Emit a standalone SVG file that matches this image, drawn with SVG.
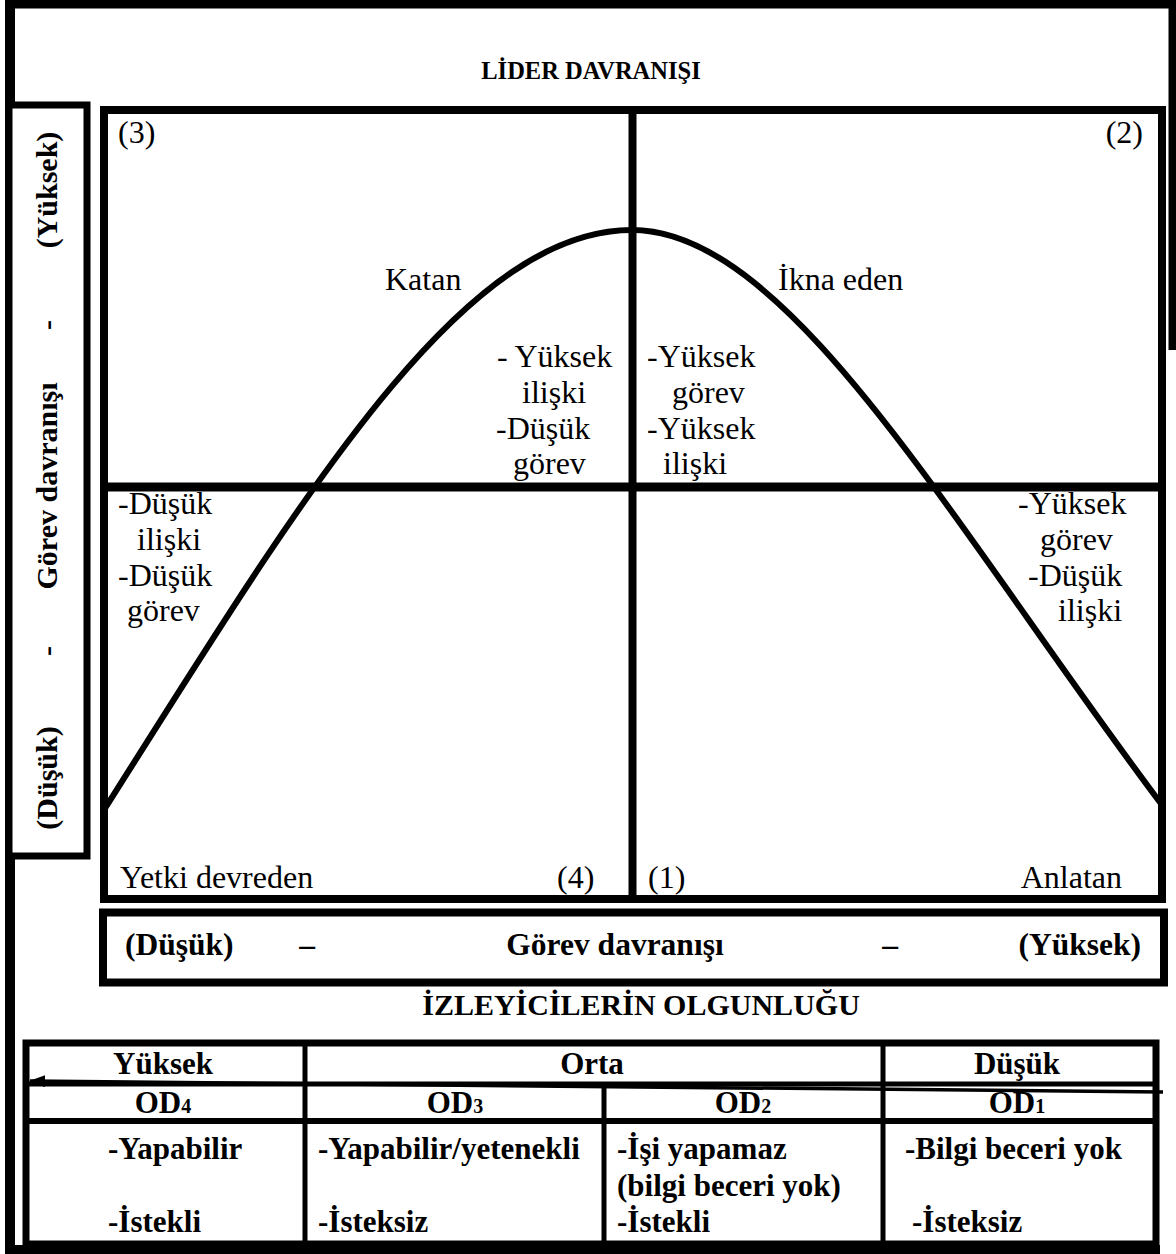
<svg xmlns="http://www.w3.org/2000/svg" width="1176" height="1254" viewBox="0 0 1176 1254">
  <style>
    .reg{font-family:"Liberation Serif","Times New Roman",serif;font-size:32px;fill:#000}
    .b{font-family:"Liberation Serif","Times New Roman",serif;font-weight:bold;fill:#000}
    .ax{font-size:30px}
    .xb{font-size:31.5px}
    .tb{font-size:31px}
    .sub{font-size:20px}
    .ln{stroke:#000;fill:none}
    .mid{text-anchor:middle}
    .end{text-anchor:end}
  </style>
  <defs>
    <marker id="ah" viewBox="0 0 16 12" refX="15" refY="6" markerWidth="16" markerHeight="12" markerUnits="userSpaceOnUse" orient="auto">
      <path d="M0,0 L16,6 L0,12 z" fill="#000"/>
    </marker>
  </defs>

  <rect width="1176" height="1254" fill="#fff"/>

  <!-- outer frame -->
  <g id="frame" class="ln">
    <line x1="5" y1="4" x2="1176" y2="4" stroke-width="9"/>
    <line x1="10" y1="0" x2="10" y2="1254" stroke-width="10"/>
    <line x1="1172.5" y1="0" x2="1172.5" y2="350" stroke-width="8"/>
    <line x1="5" y1="1249.5" x2="1160" y2="1249.5" stroke-width="9"/>
  </g>

  <!-- heading -->
  <g id="title">
    <text class="b" x="591" y="79" font-size="24.5" text-anchor="middle">LİDER DAVRANIŞI</text>
  </g>

  <!-- vertical axis label box -->
  <g id="y-axis">
    <rect x="9" y="105" width="78" height="751" fill="#fff" stroke="#000" stroke-width="7"/>
    <text class="b ax mid" transform="translate(57,190) rotate(-90)">(Yüksek)</text>
    <text class="b ax mid" transform="translate(57,325) rotate(-90)">-</text>
    <text class="b ax mid" transform="translate(57,486) rotate(-90)">Görev davranışı</text>
    <text class="b ax mid" transform="translate(57,651) rotate(-90)">-</text>
    <text class="b ax mid" transform="translate(57,778) rotate(-90)">(Düşük)</text>
  </g>

  <!-- quadrant grid -->
  <g id="grid" class="ln">
    <rect x="104" y="110" width="1058" height="789" stroke-width="8"/>
    <line x1="632.5" y1="110" x2="632.5" y2="899" stroke-width="8"/>
    <line x1="104" y1="487" x2="1162" y2="487" stroke-width="9"/>
  </g>

  <!-- leadership curve -->
  <g id="curve">
    <path class="ln" stroke-width="6" d="M104,810 C304,494 462,230 632,230 C790,230 955,530 1162,805"/>
  </g>

  <!-- quadrant 3 -->
  <g id="q3">
    <text class="reg" x="118" y="143">(3)</text>
    <text class="reg" x="385" y="290">Katan</text>
    <text class="reg" x="497" y="367">- Yüksek</text>
    <text class="reg" x="522" y="403">ilişki</text>
    <text class="reg" x="496" y="439">-Düşük</text>
    <text class="reg" x="513" y="474">görev</text>
  </g>

  <!-- quadrant 2 -->
  <g id="q2">
    <text class="reg end" x="1143" y="143">(2)</text>
    <text class="reg" x="778" y="290">İkna eden</text>
    <text class="reg" x="647" y="367">-Yüksek</text>
    <text class="reg" x="672" y="403">görev</text>
    <text class="reg" x="647" y="439">-Yüksek</text>
    <text class="reg" x="663" y="474">ilişki</text>
  </g>

  <!-- quadrant 4 -->
  <g id="q4">
    <text class="reg" x="118" y="514">-Düşük</text>
    <text class="reg" x="137" y="550">ilişki</text>
    <text class="reg" x="118" y="586">-Düşük</text>
    <text class="reg" x="127" y="621">görev</text>
    <text class="reg" x="120" y="888">Yetki devreden</text>
    <text class="reg" x="557" y="888">(4)</text>
  </g>

  <!-- quadrant 1 -->
  <g id="q1">
    <text class="reg" x="1018" y="514">-Yüksek</text>
    <text class="reg" x="1040" y="550">görev</text>
    <text class="reg" x="1028" y="586">-Düşük</text>
    <text class="reg" x="1058" y="621">ilişki</text>
    <text class="reg" x="648" y="888">(1)</text>
    <text class="reg end" x="1122" y="888">Anlatan</text>
  </g>

  <!-- horizontal axis label box -->
  <g id="x-axis">
    <rect x="103" y="912.5" width="1061" height="70" fill="#fff" stroke="#000" stroke-width="8"/>
    <text class="b xb" x="125" y="955">(Düşük)</text>
    <text class="b xb mid" x="307" y="955">–</text>
    <text class="b xb mid" x="615" y="955">Görev davranışı</text>
    <text class="b xb mid" x="890" y="955">–</text>
    <text class="b xb end" x="1141" y="955">(Yüksek)</text>
  </g>

  <!-- follower maturity table -->
  <g id="maturity">
    <text class="b mid" x="641" y="1015" font-size="30">İZLEYİCİLERİN OLGUNLUĞU</text>
    <g class="ln">
      <rect x="26" y="1043" width="1130" height="201" stroke-width="7"/>
      <line x1="26" y1="1084" x2="1156" y2="1084" stroke-width="5"/>
      <line x1="26" y1="1121" x2="1156" y2="1121" stroke-width="6"/>
      <line x1="305" y1="1043" x2="305" y2="1244" stroke-width="5"/>
      <line x1="883" y1="1043" x2="883" y2="1244" stroke-width="5"/>
      <line x1="604" y1="1084" x2="604" y2="1244" stroke-width="5"/>
    </g>
    <text class="b tb mid" x="163" y="1074">Yüksek</text>
    <text class="b tb mid" x="592" y="1074">Orta</text>
    <text class="b tb mid" x="1017" y="1074">Düşük</text>
    <text class="b tb mid" x="163" y="1113">OD<tspan class="sub">4</tspan></text>
    <text class="b tb mid" x="455" y="1113">OD<tspan class="sub">3</tspan></text>
    <text class="b tb mid" x="743" y="1113">OD<tspan class="sub">2</tspan></text>
    <text class="b tb mid" x="1017" y="1113">OD<tspan class="sub">1</tspan></text>
    <text class="b tb" x="108" y="1159">-Yapabilir</text>
    <text class="b tb" x="108" y="1232">-İstekli</text>
    <text class="b tb" x="318" y="1159">-Yapabilir/yetenekli</text>
    <text class="b tb" x="318" y="1232">-İsteksiz</text>
    <text class="b tb" x="617" y="1159">-İşi yapamaz</text>
    <text class="b tb" x="617" y="1196">(bilgi beceri yok)</text>
    <text class="b tb" x="617" y="1232">-İstekli</text>
    <text class="b tb" x="905" y="1159">-Bilgi beceri yok</text>
    <text class="b tb" x="912" y="1232">-İsteksiz</text>
  </g>

  <!-- maturity direction arrow -->
  <g id="connectors">
    <line class="ln" x1="1163" y1="1092" x2="30" y2="1081" stroke-width="3.5" marker-end="url(#ah)"/>
  </g>
</svg>
